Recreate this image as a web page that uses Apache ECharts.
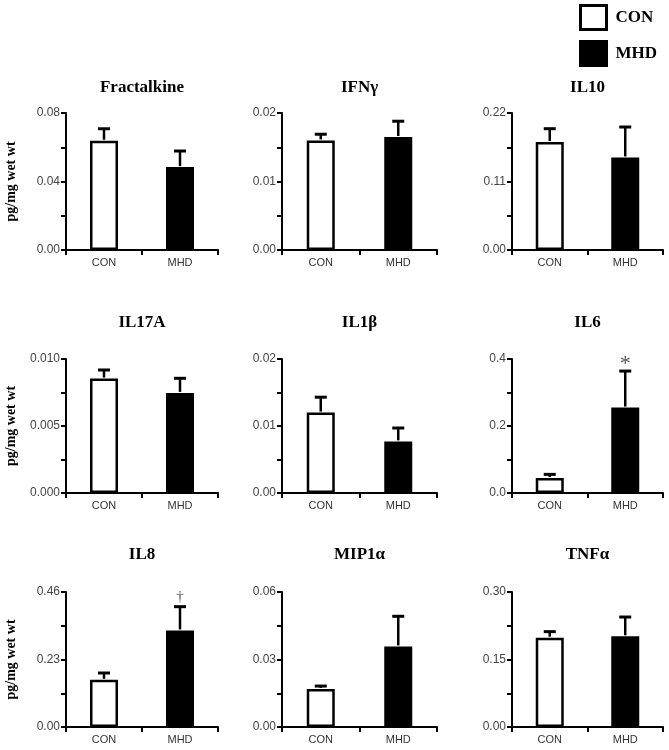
<!DOCTYPE html>
<html>
<head>
<meta charset="utf-8">
<script src="https://cdn.jsdelivr.net/npm/echarts@6/dist/echarts.min.js"></script>
<style>html,body{margin:0;padding:0;background:#fff}#c{width:669px;height:750px}</style>
</head>
<body>
<div id="c"></div>
<script>
const categories = ['CON', 'MHD'];
const panels = ['Fractalkine', 'IFNγ', 'IL10', 'IL17A', 'IL1β', 'IL6', 'IL8', 'MIP1α', 'TNFα'];
const conMean = [0.0638, 0.0160, 0.1733, 0.00854, 0.0120, 0.0447, 0.161, 0.0169, 0.1985];
const conSem  = [0.0070, 0.0009, 0.0215, 0.00064, 0.0023, 0.0109, 0.023, 0.0013, 0.0134];
const mhdMean = [0.0484, 0.0165, 0.1486, 0.00747, 0.0077, 0.255, 0.329, 0.0358, 0.2015];
const mhdSem  = [0.0094, 0.0023, 0.0489, 0.00109, 0.0020, 0.109, 0.081, 0.0134, 0.0429];
const yMax = [0.08, 0.02, 0.22, 0.010, 0.02, 0.4, 0.46, 0.06, 0.30];
const yDecimals = [2, 2, 2, 3, 2, 1, 2, 2, 2];
const sigMarks = ['', '', '', '', '', '*', '†', '', ''];
const yName = 'pg/mg wet wt';

const colLeft = [66, 282, 512];
const colWidth = [152, 155, 151];
const rowTop = [113, 359, 592];
const rowHeight = [137, 134, 135];
const titleY = [88, 323, 555];

const SERIF = '"Liberation Serif", "Times New Roman", serif';
const SANS = '"Liberation Sans", Arial, sans-serif';

const grids = [], xAxes = [], yAxes = [], series = [], graphics = [];
panels.forEach((name, i) => {
  const r = Math.floor(i / 3), c = i % 3;
  grids.push({left: colLeft[c], top: rowTop[r], width: colWidth[c], height: rowHeight[r], containLabel: false});
  xAxes.push({
    type: 'category', gridIndex: i, data: categories,
    axisLine: {lineStyle: {color: '#000', width: 2}},
    axisTick: {show: true, length: 5, lineStyle: {color: '#000', width: 2}},
    axisLabel: {color: '#333', fontSize: 11, fontFamily: SANS, margin: 7}
  });
  const dec = yDecimals[i];
  yAxes.push({
    type: 'value', gridIndex: i, min: 0, max: yMax[i], interval: yMax[i] / 4,
    name: c === 0 ? yName : '', nameLocation: 'middle', nameGap: 48,
    nameTextStyle: {fontFamily: SERIF, fontWeight: 'bold', fontSize: 14, color: '#000'},
    axisLine: {show: true, lineStyle: {color: '#000', width: 2}},
    axisTick: {show: true, length: 5, lineStyle: {color: '#000', width: 2}},
    splitLine: {show: false},
    axisLabel: {
      color: '#444', fontSize: 12, fontFamily: SANS, margin: 6,
      formatter: (v, idx) => (idx % 2 === 0 ? Number(v).toFixed(dec) : '')
    }
  });
  series.push({
    type: 'bar', name: 'CON', xAxisIndex: i, yAxisIndex: i,
    data: [conMean[i], '-'], barWidth: 28, barGap: '-100%',
    itemStyle: {color: '#fff', borderColor: '#000', borderWidth: 2.5}
  });
  series.push({
    type: 'bar', name: 'MHD', xAxisIndex: i, yAxisIndex: i,
    data: ['-', mhdMean[i]], barWidth: 28, barGap: '-100%',
    itemStyle: {color: '#000', borderColor: '#000', borderWidth: 2.5}
  });
  const mark = sigMarks[i];
  series.push({
    type: 'custom', xAxisIndex: i, yAxisIndex: i, silent: true, z: 5,
    data: [[0, conMean[i], conSem[i]], [1, mhdMean[i], mhdSem[i]]],
    encode: {x: 0, y: 1},
    renderItem: function (params, api) {
      const x = api.value(0), m = api.value(1), s = api.value(2);
      const p0 = api.coord([x, m]);
      const p1 = api.coord([x, m + s]);
      const half = 6;
      const children = [
        {type: 'line', shape: {x1: p0[0], y1: p0[1] - 1, x2: p1[0], y2: p1[1]}, style: {stroke: '#000', lineWidth: 2.5}},
        {type: 'line', shape: {x1: p1[0] - half, y1: p1[1], x2: p1[0] + half, y2: p1[1]}, style: {stroke: '#000', lineWidth: 3}}
      ];
      if (params.dataIndex === 1 && mark) {
        const big = mark === '*';
        children.push({type: 'text', x: p1[0], y: p1[1] - (big ? 7 : 10),
          style: {text: mark, align: 'center', verticalAlign: 'middle', font: (big ? '22px ' : '15px ') + SERIF, fill: '#555'}});
      }
      return {type: 'group', children: children};
    }
  });
  graphics.push({
    type: 'text', x: colLeft[c] + colWidth[c] / 2, y: titleY[r],
    style: {text: name, align: 'center', verticalAlign: 'middle', font: 'bold 17px ' + SERIF, fill: '#000'}
  });
});

const chart = echarts.init(document.getElementById('c'), null, {renderer: 'canvas'});
chart.setOption({
  animation: false,
  backgroundColor: '#fff',
  grid: grids, xAxis: xAxes, yAxis: yAxes, series: series,
  graphic: graphics,
  legend: {
    orient: 'vertical', left: 579, top: 4, padding: 0, itemWidth: 26, itemHeight: 24, itemGap: 9,
    icon: 'rect', selectedMode: false,
    textStyle: {fontFamily: SERIF, fontWeight: 'bold', fontSize: 17, color: '#000', padding: [0, 0, 0, 4]},
    data: [
      {name: 'CON', itemStyle: {color: '#fff', borderColor: '#000', borderWidth: 3}},
      {name: 'MHD', itemStyle: {color: '#000', borderColor: '#000', borderWidth: 3}}
    ]
  }
});
</script>
</body>
</html>
